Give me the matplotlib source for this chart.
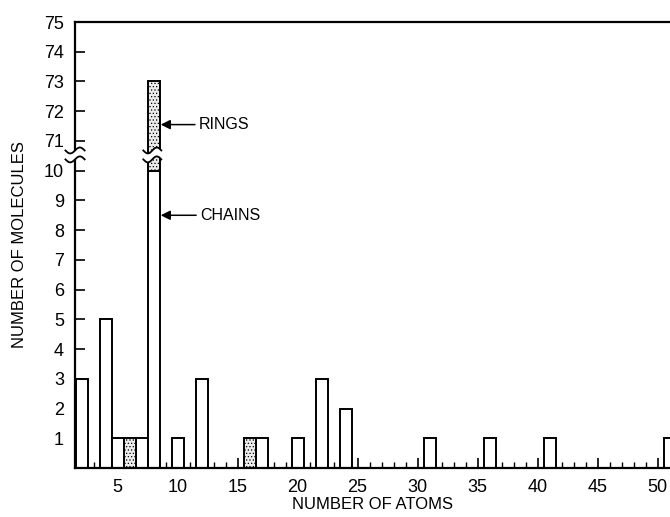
import numpy as np
import matplotlib
matplotlib.use('Agg')
import matplotlib.pyplot as plt

# Step 1: Data
chain_atoms = [2, 4, 5, 7, 8, 10, 12, 17, 20, 22, 24, 31, 36, 41, 51]
chain_counts = [3, 5, 1, 1, 10, 1, 3, 1, 1, 3, 2, 1, 1, 1, 1]
ring_atoms = [6, 8, 16]
ring_counts = [1, 63, 1]

lower_ticks = [1, 2, 3, 4, 5, 6, 7, 8, 9, 10]
upper_ticks = [71, 72, 73, 74, 75]
x_major = [5, 10, 15, 20, 25, 30, 35, 40, 45, 50]


# broken axis: 0-10 shown as is, 71-75 squeezed on top of it
def to_pos(v):
    v = np.asarray(v, dtype=float)
    return np.where(v > 10.5, v - 60, v)


plt.rcParams['font.family'] = ['Liberation Sans', 'DejaVu Sans']
plt.rcParams['hatch.linewidth'] = 0.5

fig = plt.figure(figsize=(6.7, 5.17), dpi=100)
ax = fig.add_axes([0.112, 0.0948, 0.888, 0.8626])

# Step 2: Bars (chains white, rings stippled on top)
chain_lookup = dict(zip(chain_atoms, chain_counts))
ax.bar(chain_atoms, to_pos(chain_counts), width=1.0, color='white',
       edgecolor='black', linewidth=1.4, zorder=2)
ring_base = [chain_lookup.get(a, 0) for a in ring_atoms]
ring_top = [b + c for b, c in zip(ring_base, ring_counts)]
ax.bar(ring_atoms, to_pos(ring_top) - to_pos(ring_base), bottom=to_pos(ring_base),
       width=1.0, color='#ececec', edgecolor='black', linewidth=1.4,
       hatch='.....', zorder=2)

# Step 3: Break marks on the tall bar and on the y axis
wx = np.linspace(-1, 1, 60)
lo, hi = 10.38, 10.68
bx = 7.9 + 0.75 * wx
ax.fill_between(bx, lo + 0.1 * np.sin(np.pi * wx), hi + 0.1 * np.sin(np.pi * wx),
                color='white', zorder=3, linewidth=0)
for y0 in (lo, hi):
    ax.plot(bx, y0 + 0.1 * np.sin(np.pi * wx), color='black', lw=1.3, zorder=4)

sx = 1.46 + 0.8 * wx
ax.fill_between(sx, lo + 0.1 * np.sin(np.pi * wx), hi + 0.1 * np.sin(np.pi * wx),
                color='white', zorder=5, linewidth=0, clip_on=False)
for y0 in (lo, hi):
    ax.plot(sx, y0 + 0.1 * np.sin(np.pi * wx), color='black', lw=1.3,
            zorder=6, clip_on=False)

# Step 4: Axes, ticks and labels
ax.set_xlim(1.46, 51.04)
ax.set_ylim(0, 15)
ax.set_yticks(list(to_pos(lower_ticks)) + list(to_pos(upper_ticks)))
ax.set_yticklabels([str(t) for t in lower_ticks + upper_ticks])
ax.set_xticks(x_major)
ax.set_xticks(range(2, 51), minor=True)
ax.tick_params(axis='both', which='major', direction='in', length=7, width=1.2,
               labelsize=13, colors='black')
ax.tick_params(axis='x', which='minor', direction='in', length=4, width=1.0)
ax.tick_params(axis='x', which='major', pad=8)
ax.tick_params(axis='y', which='major', pad=8)
ax.spines['right'].set_visible(False)
for side in ['left', 'top', 'bottom']:
    ax.spines[side].set_linewidth(1.6)

ax.set_xlabel('NUMBER OF ATOMS', fontsize=12, labelpad=1)
ax.set_ylabel('NUMBER OF MOLECULES', fontsize=12, labelpad=12)

# Step 5: Arrows for rings and chains
arrow_style = dict(arrowstyle='-|>', color='black', lw=1.1, mutation_scale=14,
                   shrinkA=1, shrinkB=0)
ax.annotate('RINGS', xy=(8.6, float(to_pos(71.55))), xytext=(11.8, float(to_pos(71.55))),
            va='center', ha='left', fontsize=11.5, arrowprops=arrow_style)
ax.annotate('CHAINS', xy=(8.6, 8.5), xytext=(11.9, 8.5),
            va='center', ha='left', fontsize=11.5, arrowprops=arrow_style)

plt.savefig('out.png', dpi=100)
